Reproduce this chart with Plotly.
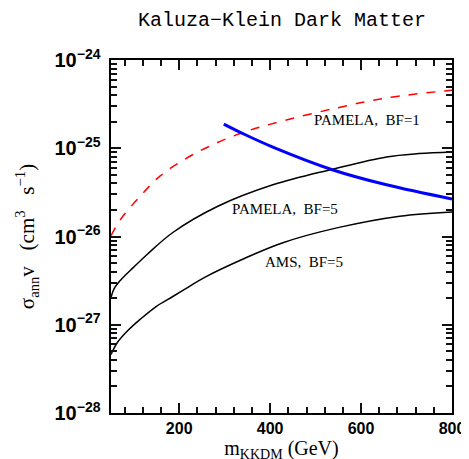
import math
import plotly.graph_objects as go

# Data (x in GeV, y in cm^3 s^-1)
red_x = [50, 71, 114, 157, 214, 271, 342, 428, 549, 656, 800]
red_y = [1.02e-26, 1.56e-26, 2.85e-26, 4.8e-26, 7.6e-26, 1.08e-25, 1.52e-25, 2.04e-25, 2.88e-25, 3.72e-25, 4.55e-25]

blue_x = [298, 342, 406, 535, 656, 800]
blue_y = [1.88e-25, 1.45e-25, 1.03e-25, 5.75e-26, 3.85e-26, 2.66e-26]

pam5_x = [50, 57, 71, 100, 130, 186, 285, 406, 535, 656, 727, 800]
pam5_y = [2.04e-27, 2.57e-27, 3.2e-27, 4.5e-27, 6.3e-27, 1.11e-26, 2.2e-26, 3.85e-26, 5.75e-26, 7.98e-26, 8.7e-26, 9.08e-26]

ams_x = [50, 64, 86, 114, 150, 186, 221, 257, 342, 428, 549, 685, 800]
ams_y = [4.6e-28, 6.3e-28, 8.5e-28, 1.15e-27, 1.62e-27, 2.09e-27, 2.69e-27, 3.47e-27, 5.6e-27, 8.5e-27, 1.26e-26, 1.7e-26, 1.9e-26]

labels = ["PAMELA,\u00a0 BF=1", "PAMELA,\u00a0 BF=5", "AMS,\u00a0 BF=5"]
label_x = [614, 432, 475]
label_y = [2.07e-25, 2.04e-26, 5.08e-27]

fig = go.Figure()
fig.add_trace(go.Scatter(x=red_x, y=red_y, mode="lines", line=dict(color="red", width=1.5, dash="dash", shape="spline"), showlegend=False))
fig.add_trace(go.Scatter(x=pam5_x, y=pam5_y, mode="lines", line=dict(color="black", width=1.5, shape="spline"), showlegend=False))
fig.add_trace(go.Scatter(x=ams_x, y=ams_y, mode="lines", line=dict(color="black", width=1.5, shape="spline"), showlegend=False))
fig.add_trace(go.Scatter(x=blue_x, y=blue_y, mode="lines", line=dict(color="blue", width=3, shape="spline"), showlegend=False))

for t, x, y in zip(labels, label_x, label_y):
    fig.add_annotation(x=x, y=math.log10(y), yref="y", xref="x", text=t, showarrow=False,
                       font=dict(family="Liberation Serif", size=15, color="black"))

fig.add_annotation(xref="paper", yref="paper", x=0.5, y=1.0, yshift=26, text="Kaluza\u2212Klein Dark Matter",
                   showarrow=False, font=dict(family="Liberation Mono", size=20, color="black"), yanchor="bottom")

tickfont = dict(family="Liberation Sans", size=16, color="black", weight="bold")
xa = dict(range=[50, 800], dtick=200, ticks="inside", ticklen=10, tickwidth=2, tickcolor="#111111",
          showline=True, linecolor="black", linewidth=1.5, mirror="allticks", showgrid=False, zeroline=False,
          tickfont=tickfont, layer="above traces",
          minor=dict(dtick=40, tick0=0, ticks="inside", ticklen=6, tickwidth=1.5, tickcolor="#111111", showgrid=False),
          title=dict(text="m<sub>KKDM</sub> (GeV)", font=dict(family="Liberation Serif", size=20, color="black"), standoff=4))
ya = dict(type="log", range=[-28, -24], dtick=1, exponentformat="power", ticks="inside", ticklen=10, tickwidth=2, tickcolor="#111111",
          showline=True, linecolor="black", linewidth=1.5, mirror="allticks", showgrid=False, zeroline=False,
          tickfont=tickfont, ticksuffix="\u00a0", layer="above traces",
          minor=dict(dtick="D1", ticks="inside", ticklen=6, tickwidth=1.5, tickcolor="#111111", showgrid=False),
          title=dict(text="\u03c3<sub>ann</sub>v\u00a0\u00a0 (cm<sup>3</sup>\u00a0\u00a0 s<sup>\u22121</sup>)",
                     font=dict(family="Liberation Serif", size=21, color="black"), standoff=14))

fig.update_layout(width=469, height=459, margin=dict(l=103, r=16, t=52, b=49),
                  plot_bgcolor="white", paper_bgcolor="white")
fig.update_xaxes(xa)
fig.update_yaxes(ya)

fig.write_html("out.html")
